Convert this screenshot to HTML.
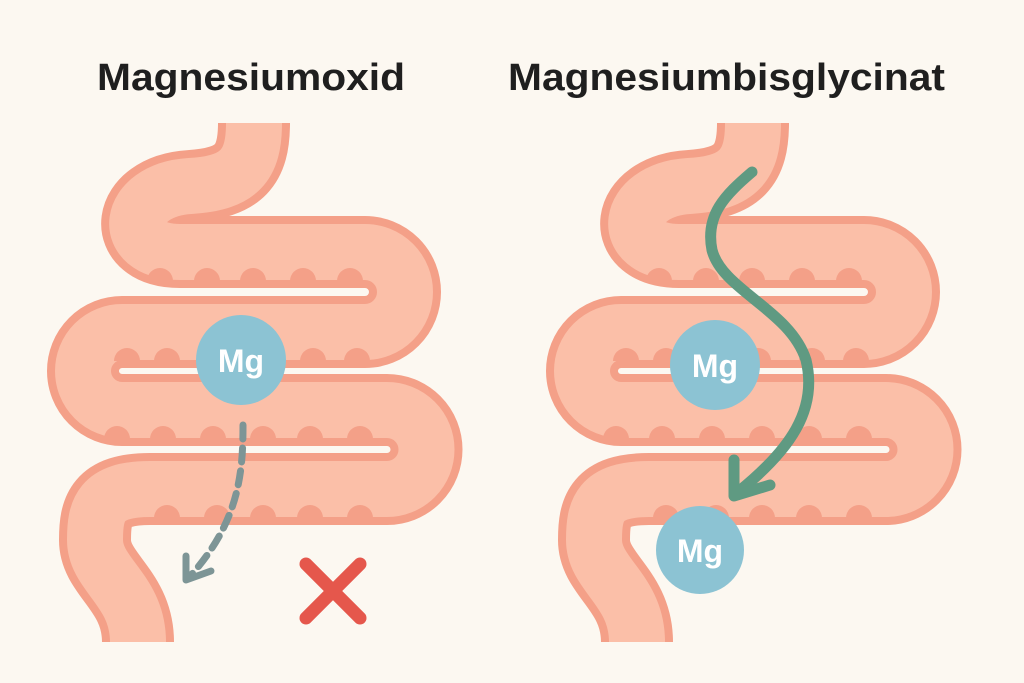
<!DOCTYPE html>
<html><head><meta charset="utf-8"><style>
html,body{margin:0;padding:0;background:#fcf8f1;}
svg{display:block;}
</style></head><body>
<svg width="1024" height="683" viewBox="0 0 1024 683" xmlns="http://www.w3.org/2000/svg">
<rect width="1024" height="683" fill="#fcf8f1"/>
<defs>
<g id="gut">
  <path d="M254 123 C254 165 240 183 190 186 C125 190 118 252 180 252 L365 252 A40 40 0 0 1 365 332 L122 332 A39 39 0 0 0 122 410 L387 410 A39.5 39.5 0 0 1 387 489 L150 489 C100 489 95 510 95 540 C95 575 138 590 138 642" fill="none" stroke="#f4a088" stroke-width="72"/>
  <path d="M254 123 C254 165 240 183 190 186 C125 190 118 252 180 252 L365 252 A40 40 0 0 1 365 332 L122 332 A39 39 0 0 0 122 410 L387 410 A39.5 39.5 0 0 1 387 489 L150 489 C100 489 95 510 95 540 C95 575 138 590 138 642" fill="none" stroke="#fbbfa8" stroke-width="56"/>
  <g fill="#f4a088">
    <path d="M147 281 A13 13 0 0 1 173 281Z M194 281 A13 13 0 0 1 220 281Z M240 281 A13 13 0 0 1 266 281Z M290 281 A13 13 0 0 1 316 281Z M337 281 A13 13 0 0 1 363 281Z"/>
    <path d="M114 361 A13 13 0 0 1 140 361Z M154 361 A13 13 0 0 1 180 361Z M200 361 A13 13 0 0 1 226 361Z M246 361 A13 13 0 0 1 272 361Z M300 361 A13 13 0 0 1 326 361Z M344 361 A13 13 0 0 1 370 361Z"/>
    <path d="M104 439 A13 13 0 0 1 130 439Z M150 439 A13 13 0 0 1 176 439Z M200 439 A13 13 0 0 1 226 439Z M250 439 A13 13 0 0 1 276 439Z M297 439 A13 13 0 0 1 323 439Z M347 439 A13 13 0 0 1 373 439Z"/>
    <path d="M154 518 A13 13 0 0 1 180 518Z M204 518 A13 13 0 0 1 230 518Z M250 518 A13 13 0 0 1 276 518Z M297 518 A13 13 0 0 1 323 518Z M347 518 A13 13 0 0 1 373 518Z"/>
  </g>
</g>
</defs>
<use href="#gut"/>
<use href="#gut" transform="translate(499,0)"/>

<g font-family="Liberation Sans, sans-serif" font-weight="bold" fill="#1f1f1f" font-size="38">
  <text x="97" y="90" textLength="308" lengthAdjust="spacingAndGlyphs">Magnesiumoxid</text>
  <text x="508" y="90" textLength="437" lengthAdjust="spacingAndGlyphs">Magnesiumbisglycinat</text>
</g>

<circle cx="241" cy="360" r="45" fill="#8cc3d3"/>
<text x="241" y="372" text-anchor="middle" font-family="Liberation Sans, sans-serif" font-weight="bold" font-size="32" fill="#fff">Mg</text>
<path d="M243 425 C243 470 240 520 192 574" fill="none" stroke="#7d9596" stroke-width="7" stroke-dasharray="14 9" stroke-linecap="round"/>
<path d="M186 556 L186 580 L211 571" fill="none" stroke="#7d9596" stroke-width="7" stroke-linecap="round" stroke-linejoin="round"/>
<g stroke="#e5574c" stroke-width="13" stroke-linecap="round">
  <line x1="306" y1="564" x2="360" y2="618"/>
  <line x1="360" y1="564" x2="306" y2="618"/>
</g>

<circle cx="715" cy="365" r="45" fill="#8cc3d3"/>
<text x="715" y="377" text-anchor="middle" font-family="Liberation Sans, sans-serif" font-weight="bold" font-size="32" fill="#fff">Mg</text>
<path d="M752 172 C725 195 705 215 712 250 C722 290 790 310 806 360 C818 410 790 450 738 492" fill="none" stroke="#5f9a82" stroke-width="11" stroke-linecap="round"/>
<path d="M734 460 L734 496 L770 485" fill="none" stroke="#5f9a82" stroke-width="11" stroke-linecap="round" stroke-linejoin="round"/>
<circle cx="700" cy="550" r="44" fill="#8cc3d3"/>
<text x="700" y="562" text-anchor="middle" font-family="Liberation Sans, sans-serif" font-weight="bold" font-size="32" fill="#fff">Mg</text>
</svg>
</body></html>
